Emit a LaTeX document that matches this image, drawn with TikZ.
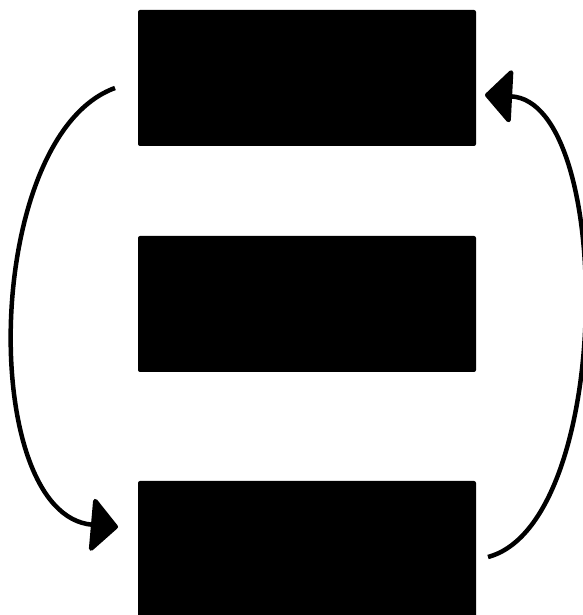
\documentclass[tikz,border=0pt]{standalone}
\usepackage{tikz}
\usetikzlibrary{positioning,arrows.meta}

\begin{document}
\begin{tikzpicture}[x=1pt, y=1pt,
    box/.style={rectangle, fill=black, minimum width=338pt, minimum height=136pt, inner sep=0pt, outer sep=0pt, rounded corners=2pt},
    arrow/.style={line width=4.5pt, -{Triangle[length=28pt, width=58pt, round]}}]

    \useasboundingbox (0,0) rectangle (582,615);

    \node (top) [box] at (307,537) {};
    \node (mid) [box, below=90pt of top] {};
    \node (bot) [box, below=109pt of mid] {};

    \draw [arrow] ([shift={(-23pt,-10pt)}]top.west) to[out=200, in=175, looseness=0.82] ([shift={(-20pt,22pt)}]bot.west);
    \draw [arrow] ([shift={(12pt,-8pt)}]bot.east) to[out=15, in=-3, looseness=0.72] ([shift={(9pt,-17pt)}]top.east);
\end{tikzpicture}
\end{document}
